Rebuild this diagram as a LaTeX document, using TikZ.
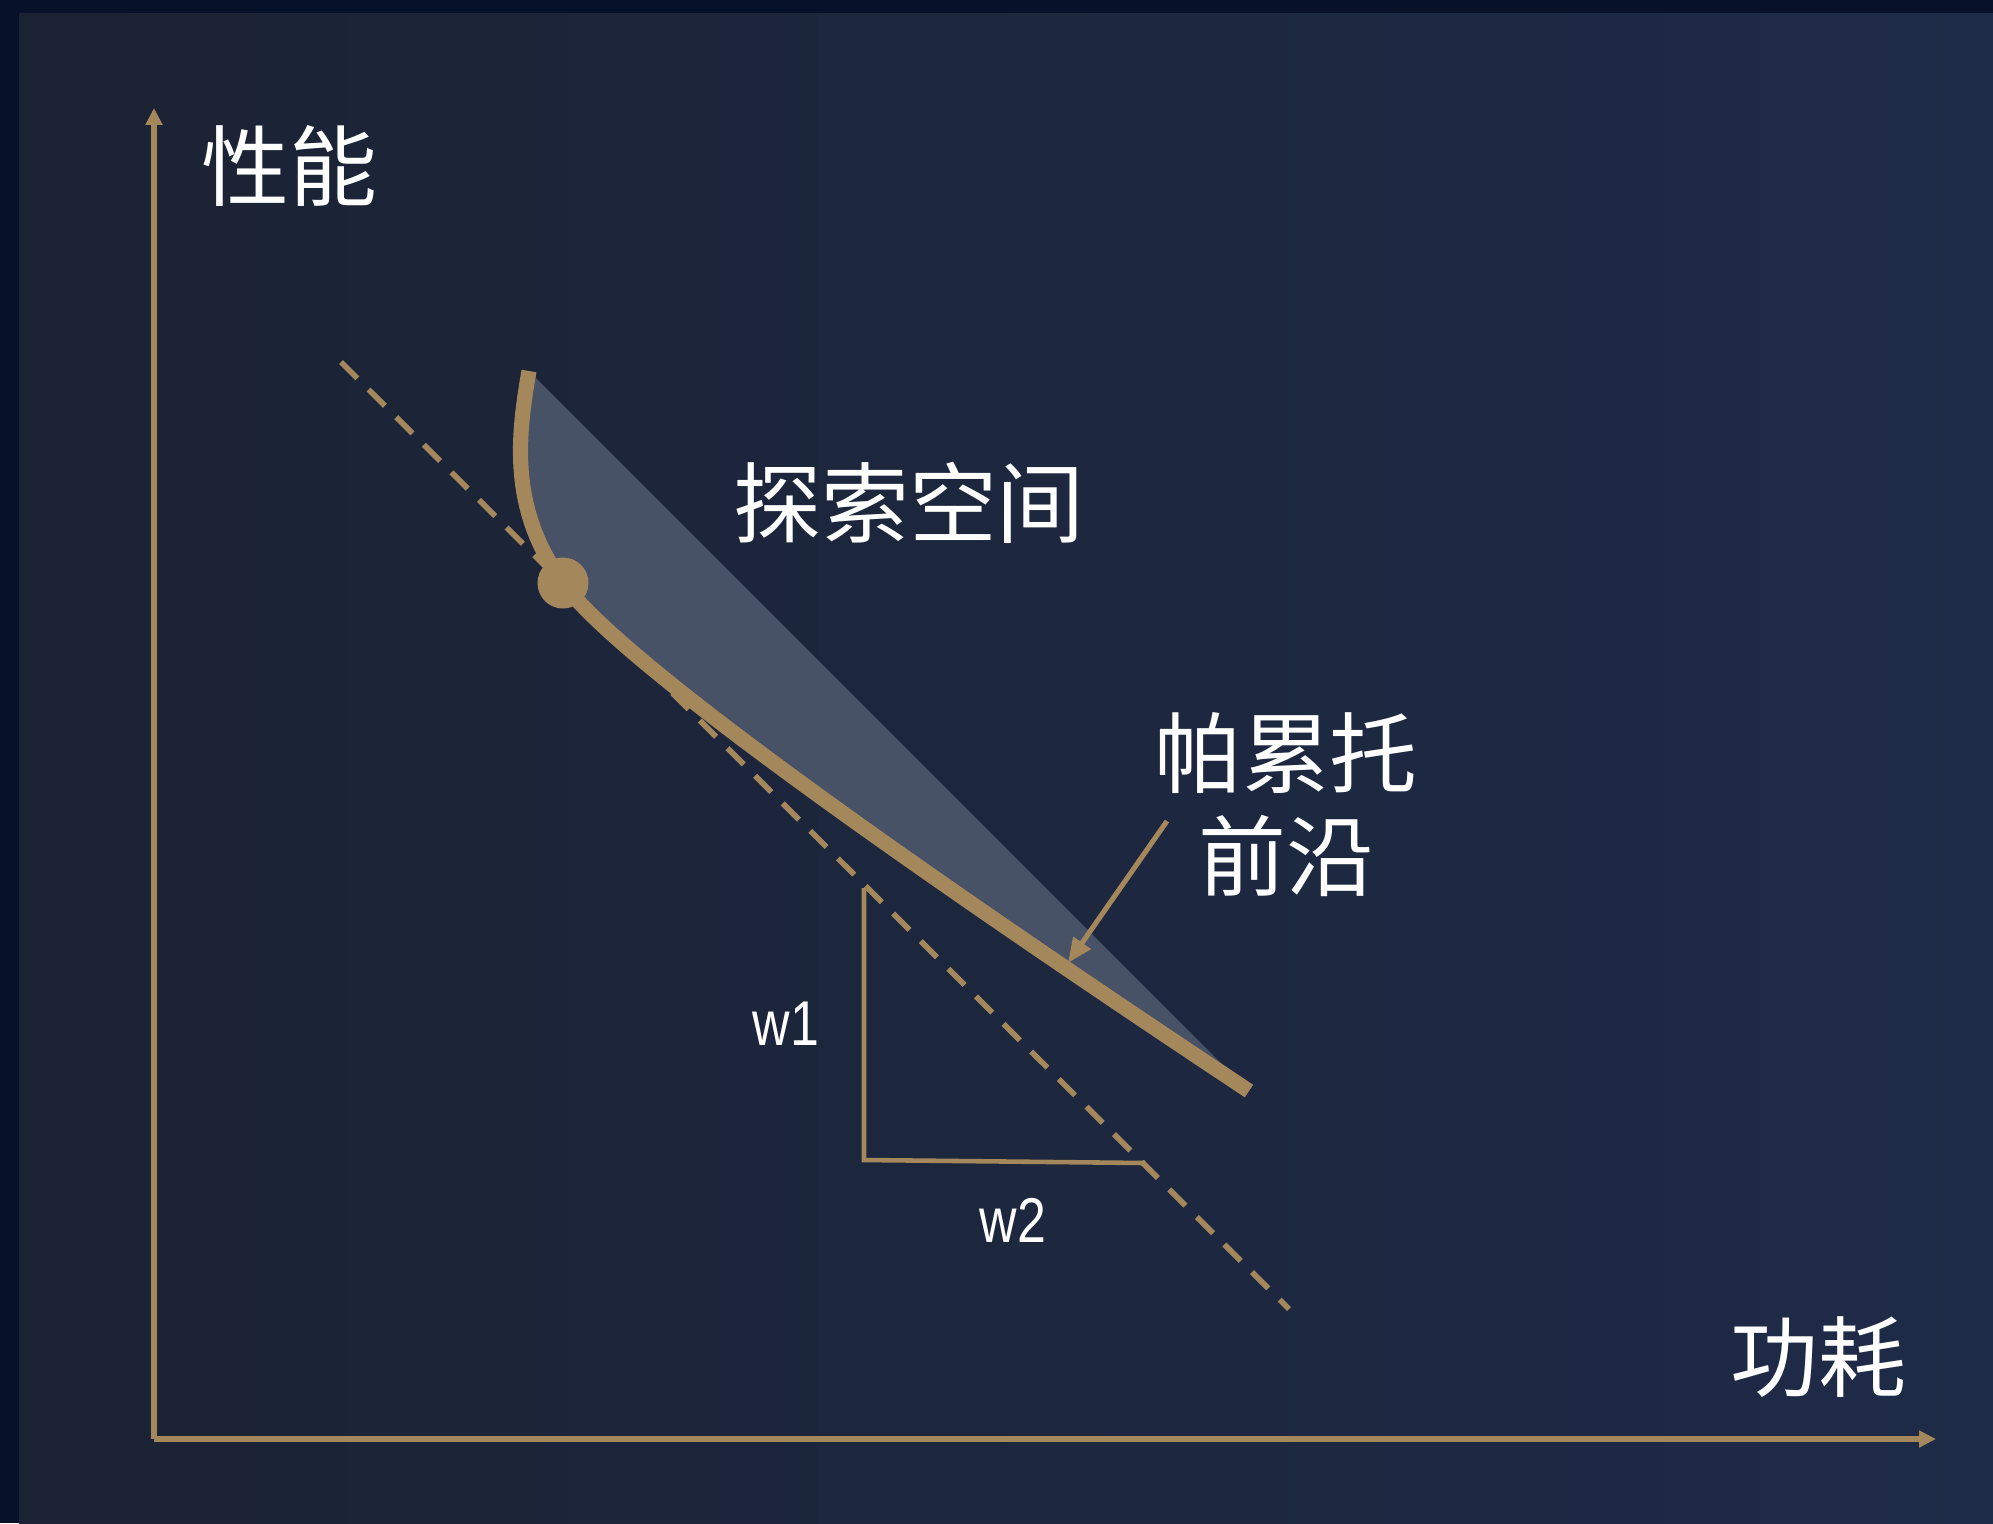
\documentclass[tikz,border=0pt]{standalone}
\usepackage{fontspec}
\setmainfont{Liberation Sans}
\newfontfamily\cjk{Noto Sans CJK SC}
\usetikzlibrary{arrows.meta}
\definecolor{gold}{RGB}{164,135,90}
\definecolor{frame}{RGB}{7,17,42}
\definecolor{bgleft}{RGB}{27,34,51}
\definecolor{bgright}{RGB}{30,43,72}
\definecolor{region}{RGB}{71,82,103}
\tikzset{
  axisline/.style={draw=gold, line width=1.45pt, -{Triangle[length=4.8pt,width=4.6pt]}},
  cjklabel/.style={text=white, inner sep=0pt, font=\cjk\fontsize{25pt}{29.3pt}\selectfont, align=center},
  wlabel/.style={text=white, inner sep=0pt, xscale=0.82, font=\fontsize{18pt}{21pt}\selectfont},
  frontier/.style={draw=gold, line width=4.3pt},
  guide/.style={draw=gold, line width=1.6pt, dash pattern=on 0.23cm off 0.16cm},
  legline/.style={draw=gold, line width=1.3pt},
  pointer/.style={draw=gold, line width=1.45pt, -{Triangle[length=7pt,width=5.8pt]}}
}
\begin{document}
\begin{tikzpicture}[x=0.01cm,y=-0.01cm]
\useasboundingbox (0,0) rectangle (1993,1523);
% background
\fill[frame] (0,0) rectangle (1993,1523);
\shade[left color=bgleft, right color=bgright] (19,13) rectangle (1993,1523);
% coordinates
\coordinate (origin) at (154,1439);
\coordinate (ytip) at (154,108);
\coordinate (xtip) at (1936,1439);
\coordinate (ctop) at (529,371);
\coordinate (cend) at (1249,1091);
\coordinate (dstart) at (341,362);
\coordinate (dend) at (1289,1309);
\coordinate (tv) at (864,888);
\coordinate (tc) at (864,1160);
\coordinate (th) at (1145,1163);
\coordinate (pstart) at (1167,821);
\coordinate (ptip) at (1068,963);
% explored region
\fill[region] (ctop) .. controls (517,440) and (510,510) .. (563,583)
  .. controls (600,634) and (750,760) .. (cend) -- cycle;
% dashed iso-line
\draw[guide] (dstart) -- (dend);
% weights triangle
\draw[legline] (tv) -- (tc) -- (th);
% axes
\draw[axisline] (origin) -- (ytip);
\draw[axisline] (origin) -- (xtip);
% pareto frontier
\draw[frontier] (ctop) .. controls (517,440) and (510,510) .. (563,583)
  .. controls (600,634) and (750,760) .. (cend);
\node[circle, fill=gold, minimum size=0.51cm, inner sep=0pt] (dot) at (563,583) {};
% pointer
\draw[pointer] (pstart) -- (ptip);
% labels
\node[cjklabel] (perf) at (289,166) {性能};
\node[cjklabel] (power) at (1818,1357) {功耗};
\node[cjklabel] (space) at (909,503) {探索空间};
\node[cjklabel] (pareto) at (1286,805) {帕累托\\前沿};
\node[wlabel] (w1) at (786,1024) {w1};
\node[wlabel] (w2) at (1013,1220) {w2};
\end{tikzpicture}
\end{document}
